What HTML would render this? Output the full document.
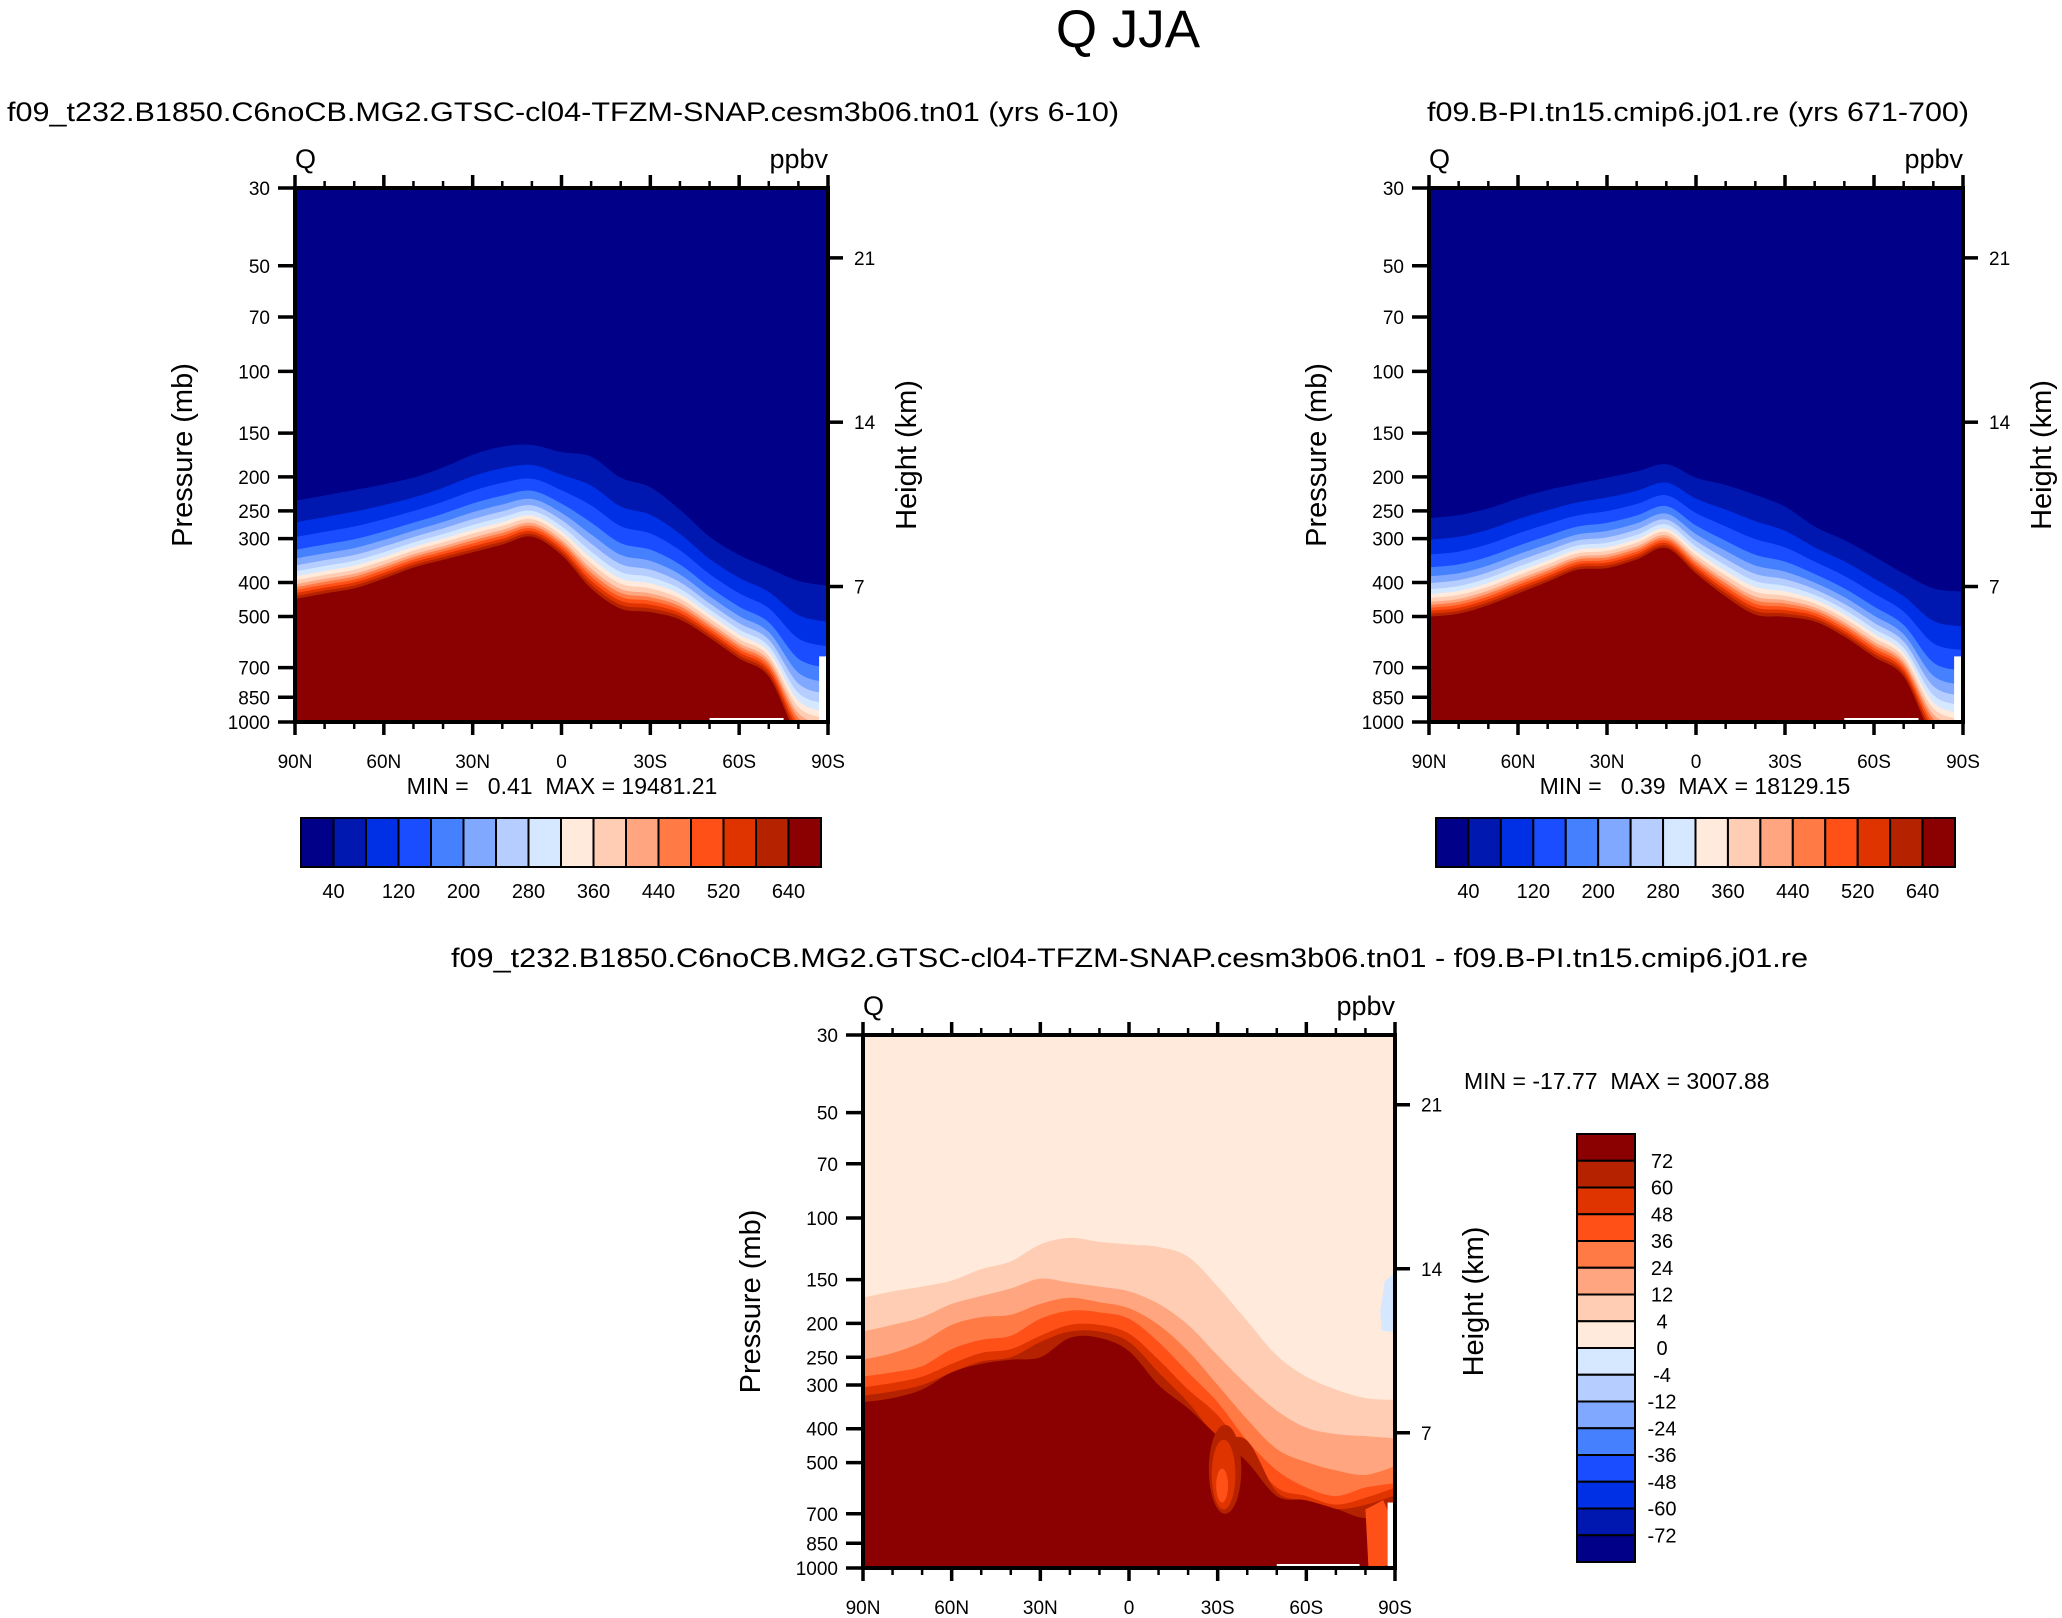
<!DOCTYPE html>
<html><head><meta charset="utf-8"><title>Q JJA</title>
<style>
html,body{margin:0;padding:0;background:#fff;}
svg{display:block;font-family:"Liberation Sans",Arial,sans-serif;}
</style></head>
<body>
<svg id="fig" width="2062" height="1618" viewBox="0 0 2062 1618" xmlns="http://www.w3.org/2000/svg">
<rect x="0" y="0" width="2062" height="1618" fill="#fff"/>
<text x="1128" y="47" font-size="53" text-anchor="middle">Q JJA</text>
<text x="7" y="121" font-size="27" textLength="1112" lengthAdjust="spacingAndGlyphs">f09_t232.B1850.C6noCB.MG2.GTSC-cl04-TFZM-SNAP.cesm3b06.tn01 (yrs 6-10)</text>
<text x="1427" y="121" font-size="27" textLength="542" lengthAdjust="spacingAndGlyphs">f09.B-PI.tn15.cmip6.j01.re (yrs 671-700)</text>
<text x="451" y="967" font-size="27" textLength="1357" lengthAdjust="spacingAndGlyphs">f09_t232.B1850.C6noCB.MG2.GTSC-cl04-TFZM-SNAP.cesm3b06.tn01 - f09.B-PI.tn15.cmip6.j01.re</text>
<text x="562" y="794" font-size="23" text-anchor="middle" xml:space="preserve">MIN =   0.41  MAX = 19481.21</text>
<text x="1695" y="794" font-size="23" text-anchor="middle" xml:space="preserve">MIN =   0.39  MAX = 18129.15</text>
<text x="1464" y="1089" font-size="23" xml:space="preserve">MIN = -17.77  MAX = 3007.88</text>
</svg>
<script>
const LATS=[90,80,70,60,50,40,30,20,10,0,-10,-20,-30,-40,-50,-60,-70,-80,-90];
const P1_NAVY=[234,226,218,210,201,188,173,164,162,170,175,201,214,248,296,334,364,396,409];
const P1_RED=[446,430,416,390,363,345,328,312,296,334,416,475,486,510,575,659,742,1100,1200];
const P2_NAVY=[262,257,246,230,218,209,201,193,184,201,211,225,243,277,303,337,377,416,425];
const P2_RED=[501,491,464,430,398,368,364,344,319,377,439,494,501,517,571,652,742,1100,1200];
const LEVEL_FRAC=[0,.22,.37,.50,.59,.66,.72,.77,.81,.85,.88,.91,.94,.97,1];
const D_B1=[169,162,157,151,140,133,119,114,117,119,121,129,157,197,247,284,309,327,331];
const D_B2=[211,202,192,176,167,159,149,153,157,162,176,202,247,300,355,397,414,420,426];
const D_B3=[254,243,226,202,192,189,176,169,174,181,202,240,300,376,457,498,526,542,512];
const D_B4=[284,276,265,237,223,217,194,184,186,194,226,276,336,433,526,589,623,589,572];
const D_B5=[305,296,284,261,243,237,217,202,202,214,254,309,366,470,589,623,659,630,590];
const D_B6=[322,313,300,276,257,250,226,211,211,226,276,336,420,433,606,641,678,660,620];
const D_B7=[336,327,309,276,261,254,250,220,220,240,300,350,420,498,623,641,678,720,680];
const PRESS_TICKS=[30,50,70,100,150,200,250,300,400,500,700,850,1000];
const HEIGHT_TICKS=[7,14,21];
const LAT_MAJOR=[90,60,30,0,-30,-60,-90];
const LAT_LABELS=['90N','60N','30N','0','30S','60S','90S'];
const CB1_LABELS=['40','120','200','280','360','440','520','640'];
const CB3_LABELS=['72','60','48','36','24','12','4','0','-4','-12','-24','-36','-48','-60','-72'];
const COLORS=['#000089','#0018b0','#0030e6','#1a4dff','#4580ff','#80a8ff','#b5ceff','#d6e8ff','#ffeadb','#ffcdb3','#ffa680','#ff7a45','#ff5018','#e03400','#b52200','#8b0000'];

const NS='http://www.w3.org/2000/svg';
const svg=document.getElementById('fig');
function mk(tag,attrs,parent){const e=document.createElementNS(NS,tag);for(const k in attrs)e.setAttribute(k,attrs[k]);(parent||svg).appendChild(e);return e;}

function makeAxes(x0,y0,w,h){
  return {
    x:lat=>x0+(90-lat)/180*w,
    y:p=>y0+h*Math.log(p/30)/Math.log(1000/30),
    yz:z=>y0+h*(1.054-0.04396*z)
  };
}
function curve(xs,ys){
  let d='M'+xs[0]+','+ys[0];
  const n=xs.length;
  for(let i=0;i<n-1;i++){
    const a=Math.max(i-1,0),b=i,c=i+1,e=Math.min(i+2,n-1);
    const c1x=xs[b]+(xs[c]-xs[a])/6,c1y=ys[b]+(ys[c]-ys[a])/6;
    const c2x=xs[c]-(xs[e]-xs[b])/6,c2y=ys[c]-(ys[e]-ys[b])/6;
    d+='C'+c1x+','+c1y+' '+c2x+','+c2y+' '+xs[c]+','+ys[c];
  }
  return d;
}
function bandBelow(g,ax,pressures,color,x0,y0,w,h){
  const xs=LATS.map(ax.x),ys=pressures.map(p=>ax.y(p));
  let d='M'+(x0-10)+','+ys[0]+'L'+xs[0]+','+ys[0]+curve(xs,ys).replace(/^M[^C]*/,'');
  d+='L'+(x0+w+10)+','+ys[ys.length-1]+'L'+(x0+w+10)+','+(y0+h+10)+'L'+(x0-10)+','+(y0+h+10)+'Z';
  return mk('path',{d:d,fill:color},g);
}

function frame(key,x0,y0,w,h,ax){
  const g=mk('g',{});
  
  
  const box=mk('rect',{x:x0,y:y0,width:w,height:h,fill:'none',stroke:'#000','stroke-width':4},g);
  
  
  PRESS_TICKS.forEach(p=>{
    const y=ax.y(p);
    const t=mk('line',{x1:x0-17,x2:x0,y1:y,y2:y,stroke:'#000','stroke-width':3.5},g);
    
    
    const l=mk('text',{x:x0-25,y:y+7,'font-size':19,'text-anchor':'end'},g);
    l.textContent=String(p);
    
    
  });
  HEIGHT_TICKS.forEach(z=>{
    const y=ax.yz(z);
    const t=mk('line',{x1:x0+w,x2:x0+w+15,y1:y,y2:y,stroke:'#000','stroke-width':3.5},g);
    
    
    const l=mk('text',{x:x0+w+26,y:y+7,'font-size':19},g);
    l.textContent=String(z);
    
    
  });
  for(let lat=90;lat>=-90;lat-=10){
    const x=ax.x(lat);const major=(lat%30===0);const len=major?13:7;
    const tb=mk('line',{x1:x,x2:x,y1:y0+h,y2:y0+h+len,stroke:'#000','stroke-width':major?3.5:2.5},g);
    
    
    const tt=mk('line',{x1:x,x2:x,y1:y0,y2:y0-len,stroke:'#000','stroke-width':major?3.5:2.5},g);
    
    
  }
  LAT_MAJOR.forEach((lat,i)=>{
    const l=mk('text',{x:ax.x(lat),y:y0+h+46,'font-size':19,'text-anchor':'middle'},g);
    l.textContent=LAT_LABELS[i];
    
    
  });
  const q=mk('text',{x:x0,y:y0-20,'font-size':27},g);q.textContent='Q';
  
  
  const u=mk('text',{x:x0+w,y:y0-20,'font-size':27,'text-anchor':'end'},g);u.textContent='ppbv';
  
  
  const py=mk('text',{x:0,y:0,'font-size':29,'text-anchor':'middle',transform:'translate('+(x0-103)+','+(y0+h/2)+') rotate(-90)'},g);
  py.textContent='Pressure (mb)';
  
  
  const hy=mk('text',{x:0,y:0,'font-size':29,'text-anchor':'middle',transform:'translate('+(x0+w+88)+','+(y0+h/2)+') rotate(-90)'},g);
  hy.textContent='Height (km)';
  
  
}

let clipN=0;
function fieldPanel(key,x0,y0,w,h,navy,red){
  const ax=makeAxes(x0,y0,w,h);
  const cp=mk('clipPath',{id:'clip'+(++clipN)});
  mk('rect',{x:x0,y:y0,width:w,height:h},cp);
  const g=mk('g',{'clip-path':'url(#clip'+clipN+')'});
  
  
  const bg=mk('rect',{x:x0,y:y0,width:w,height:h,fill:COLORS[0]},g);
  
  
  LEVEL_FRAC.forEach((t,k)=>{
    const ps=navy.map((pn,i)=>Math.exp(Math.log(pn)+t*(Math.log(red[i])-Math.log(pn))));
    const b=bandBelow(g,ax,ps,COLORS[k+1],x0,y0,w,h);
    
    
  });
  const wr=mk('rect',{x:ax.x(-87),y:ax.y(650),width:ax.x(-90)-ax.x(-87),height:ax.y(1000)-ax.y(650),fill:'#fff'},g);
  
  
  const wl=mk('rect',{x:ax.x(-50),y:y0+h-4,width:ax.x(-75)-ax.x(-50),height:4,fill:'#fff'},g);
  
  
  frame(key,x0,y0,w,h,ax);
}
fieldPanel('left',295,188,533,534,P1_NAVY,P1_RED);
fieldPanel('right',1429,188,534,534,P2_NAVY,P2_RED);

(function(){
  const x0=863,y0=1035,w=532,h=533,key='difference';
  const ax=makeAxes(x0,y0,w,h);
  const cp=mk('clipPath',{id:'clip'+(++clipN)});
  mk('rect',{x:x0,y:y0,width:w,height:h},cp);
  const g=mk('g',{'clip-path':'url(#clip'+clipN+')'});
  
  
  const bg=mk('rect',{x:x0,y:y0,width:w,height:h,fill:COLORS[8]},g);
  
  
  [D_B1,D_B2,D_B3,D_B4,D_B5,D_B6,D_B7].forEach((arr,k)=>{
    const b=bandBelow(g,ax,arr,COLORS[9+k],x0,y0,w,h);
    
    
  });
  const tongues=[[-27,-38,390,700,COLORS[14]],[-28,-36,430,680,COLORS[13]],[-29.5,-33.5,520,650,COLORS[12]]];
  tongues.forEach(tg=>{
    const cx=(ax.x(tg[0])+ax.x(tg[1]))/2,rx=(ax.x(tg[1])-ax.x(tg[0]))/2;
    const cy=(ax.y(tg[2])+ax.y(tg[3]))/2,ry=(ax.y(tg[3])-ax.y(tg[2]))/2;
    const e=mk('ellipse',{cx:cx,cy:cy,rx:rx,ry:ry,fill:tg[4]},g);
    
    
  });
  const streakLat=[-80,-83,-86,-88,-88,-84,-81],streakP=[680,660,640,700,980,1000,990];
  const st=mk('polygon',{points:streakLat.map((l,i)=>ax.x(l)+','+ax.y(streakP[i])).join(' '),fill:COLORS[12]},g);
  
  
  const blueLat=[-90,-86.5,-85,-85.5,-90],blueP=[143,152,185,210,212];
  const bp=mk('polygon',{points:blueLat.map((l,i)=>ax.x(l)+','+ax.y(blueP[i])).join(' '),fill:COLORS[7]},g);
  
  
  const wr=mk('rect',{x:ax.x(-87.5),y:ax.y(650),width:ax.x(-90)-ax.x(-87.5),height:ax.y(1000)-ax.y(650),fill:'#fff'},g);
  
  
  const wl=mk('rect',{x:ax.x(-50),y:y0+h-4,width:ax.x(-78)-ax.x(-50),height:4,fill:'#fff'},g);
  
  
  frame(key,x0,y0,w,h,ax);
})();

function hbar(key,x0,y0,w,h){
  const g=mk('g',{});
  
  
  const bw=w/COLORS.length;
  COLORS.forEach((c,i)=>{
    const r=mk('rect',{x:x0+i*bw,y:y0,width:bw,height:h,fill:c,stroke:'#000','stroke-width':2},g);
    
    
  });
  CB1_LABELS.forEach((t,i)=>{
    const l=mk('text',{x:x0+(2*i+1)*bw,y:y0+h+31,'font-size':20,'text-anchor':'middle'},g);
    l.textContent=t;
    
    
  });
}
hbar('left',301,818,520,49);
hbar('right',1436,818,519,49);

(function(){
  const x0=1577,y0=1134,w=58,h=428;
  const g=mk('g',{});
  
  
  const bh=h/COLORS.length;
  COLORS.slice().reverse().forEach((c,i)=>{
    const r=mk('rect',{x:x0,y:y0+i*bh,width:w,height:bh,fill:c,stroke:'#000','stroke-width':2},g);
    
    
  });
  CB3_LABELS.forEach((t,i)=>{
    const l=mk('text',{x:1662,y:y0+(i+1)*bh+7,'font-size':20,'text-anchor':'middle'},g);
    l.textContent=t;
    
    
  });
})();
</script>
</body></html>
